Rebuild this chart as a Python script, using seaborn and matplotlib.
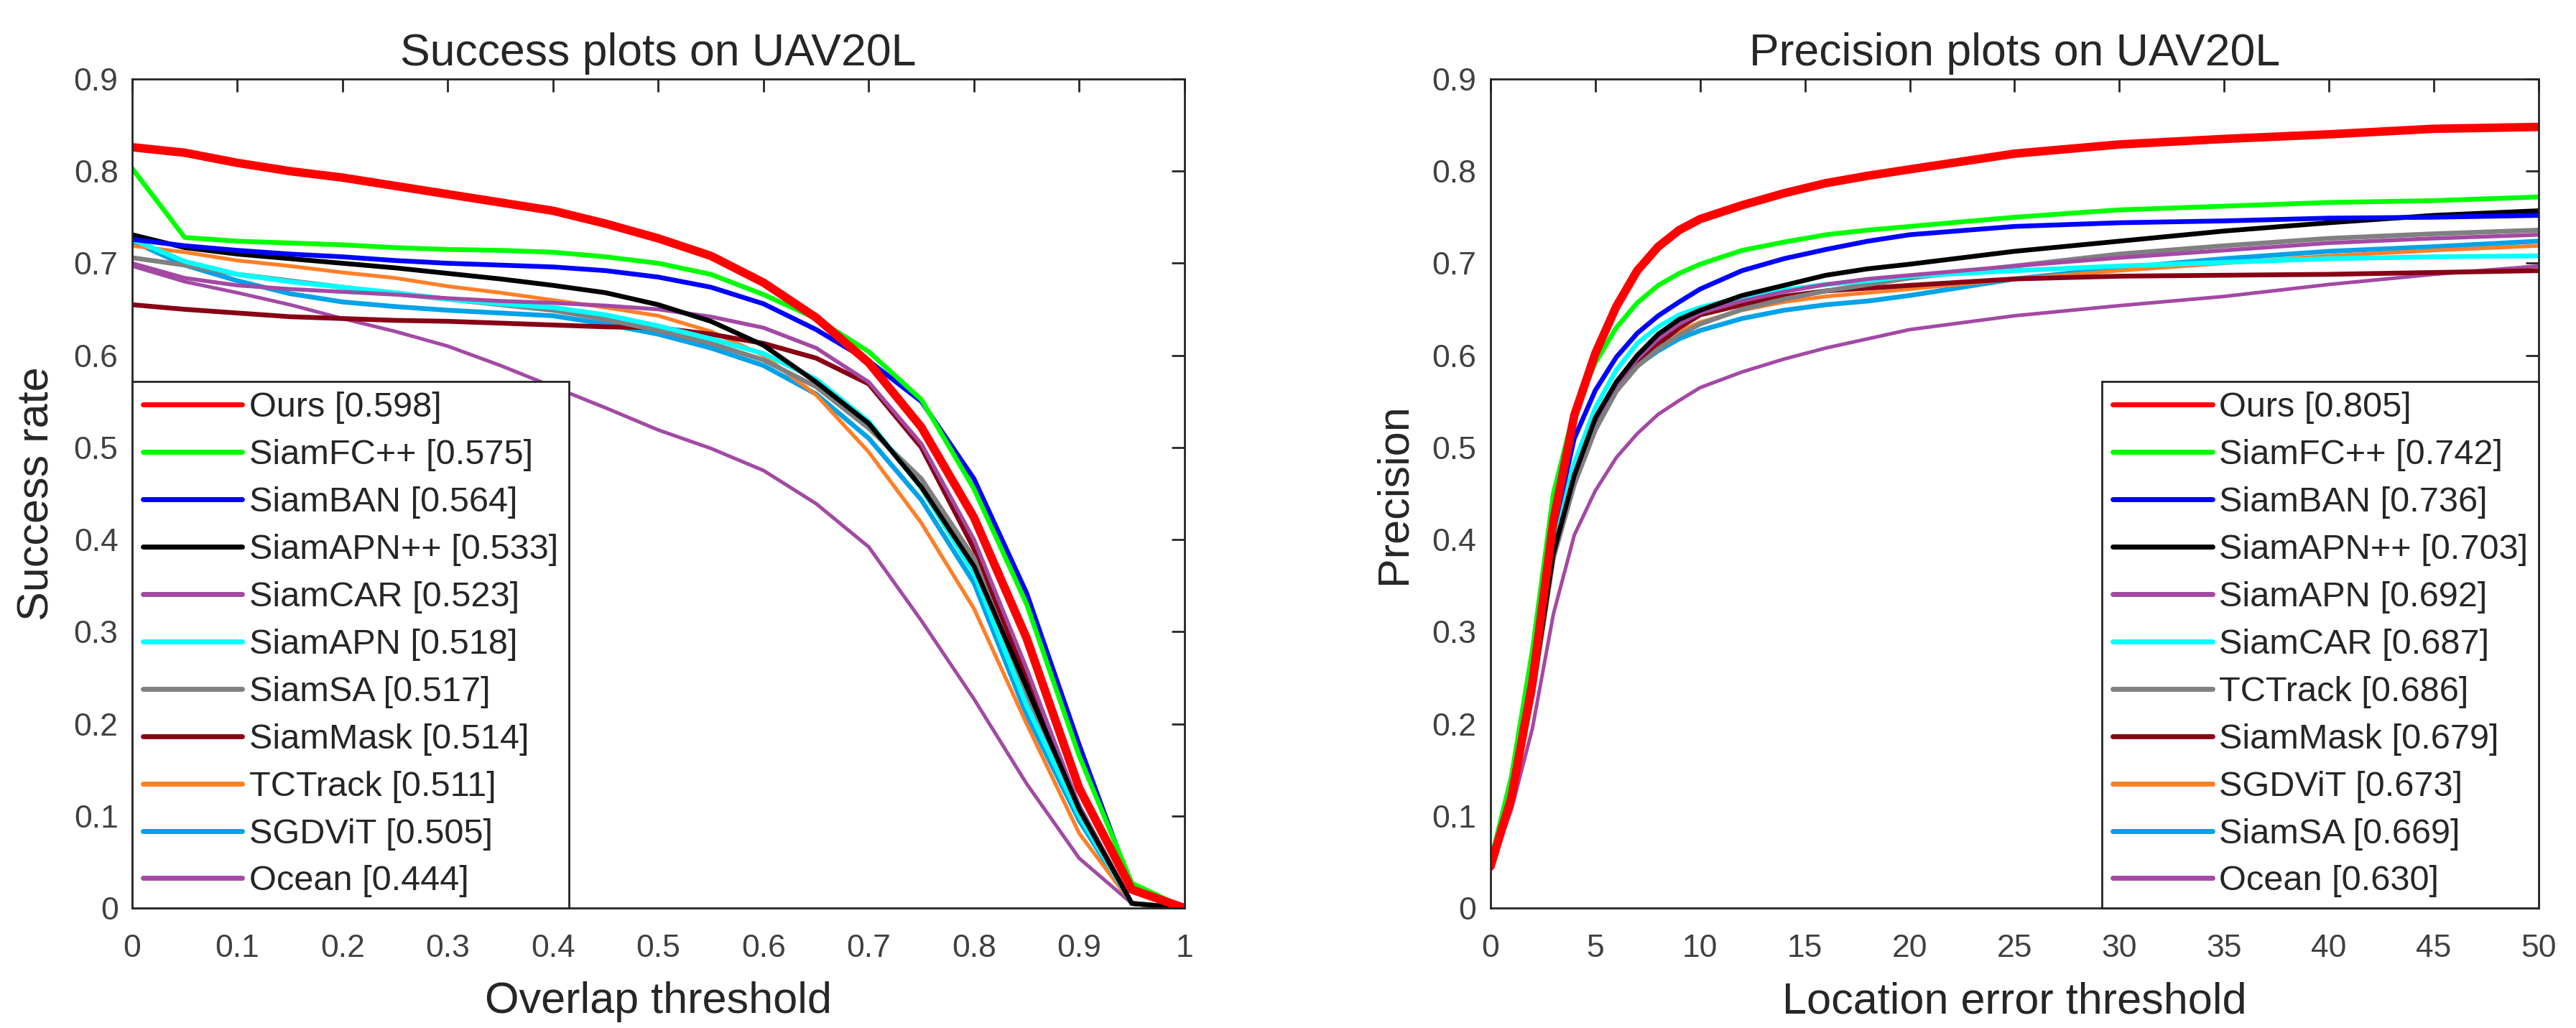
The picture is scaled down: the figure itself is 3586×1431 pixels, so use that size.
import seaborn as sns
import matplotlib.pyplot as plt
from matplotlib.lines import Line2D

# ---- success plot (overlap threshold) ----
overlap_thr = [0.0, 0.05, 0.1, 0.15, 0.2, 0.25, 0.3, 0.35, 0.4, 0.45, 0.5,
               0.55, 0.6, 0.65, 0.7, 0.75, 0.8, 0.85, 0.9, 0.95, 1.0]
succ_ours = [0.826, 0.820, 0.809, 0.800, 0.793, 0.784, 0.775, 0.766, 0.757, 0.743, 0.727,
             0.708, 0.679, 0.641, 0.592, 0.522, 0.424, 0.293, 0.130, 0.020, 0.0]
succ_siamfcpp = [0.803, 0.728, 0.724, 0.722, 0.720, 0.717, 0.715, 0.714, 0.712, 0.707, 0.700,
                 0.688, 0.666, 0.640, 0.604, 0.552, 0.455, 0.330, 0.165, 0.027, 0.0]
succ_siamban = [0.726, 0.719, 0.714, 0.710, 0.707, 0.703, 0.700, 0.698, 0.696, 0.692, 0.685,
                0.674, 0.656, 0.628, 0.594, 0.550, 0.466, 0.342, 0.177, 0.022, 0.0]
succ_siamapnpp = [0.731, 0.717, 0.710, 0.705, 0.700, 0.695, 0.689, 0.683, 0.676, 0.668, 0.655,
                  0.637, 0.611, 0.571, 0.526, 0.457, 0.371, 0.240, 0.107, 0.005, 0.0]
succ_siamcar = [0.700, 0.684, 0.676, 0.672, 0.669, 0.666, 0.662, 0.659, 0.657, 0.654, 0.650,
                0.642, 0.630, 0.608, 0.571, 0.504, 0.400, 0.260, 0.110, 0.005, 0.0]
succ_siamapn = [0.726, 0.702, 0.688, 0.680, 0.674, 0.668, 0.661, 0.656, 0.652, 0.644, 0.632,
                0.618, 0.602, 0.574, 0.528, 0.456, 0.363, 0.220, 0.100, 0.005, 0.0]
succ_siamsa = [0.706, 0.698, 0.688, 0.681, 0.674, 0.667, 0.661, 0.655, 0.649, 0.639, 0.627,
               0.613, 0.595, 0.566, 0.521, 0.466, 0.380, 0.230, 0.100, 0.005, 0.0]
succ_siammask = [0.655, 0.650, 0.646, 0.642, 0.640, 0.638, 0.637, 0.635, 0.633, 0.631, 0.630,
                 0.623, 0.613, 0.597, 0.569, 0.500, 0.390, 0.250, 0.110, 0.005, 0.0]
succ_tctrack = [0.719, 0.712, 0.703, 0.697, 0.690, 0.684, 0.675, 0.668, 0.660, 0.652, 0.643,
                0.626, 0.600, 0.557, 0.495, 0.418, 0.325, 0.200, 0.081, 0.005, 0.0]
succ_sgdvit = [0.724, 0.698, 0.681, 0.667, 0.658, 0.653, 0.649, 0.646, 0.643, 0.634, 0.623,
               0.608, 0.589, 0.558, 0.510, 0.443, 0.353, 0.210, 0.095, 0.005, 0.0]
succ_ocean = [0.697, 0.680, 0.668, 0.655, 0.640, 0.626, 0.610, 0.589, 0.566, 0.543, 0.519,
              0.499, 0.475, 0.439, 0.392, 0.312, 0.227, 0.135, 0.054, 0.005, 0.0]

succ_names = ["Ours", "SiamFC++", "SiamBAN", "SiamAPN++", "SiamCAR", "SiamAPN",
              "SiamSA", "SiamMask", "TCTrack", "SGDViT", "Ocean"]
succ_scores = ["0.598", "0.575", "0.564", "0.533", "0.523", "0.518",
               "0.517", "0.514", "0.511", "0.505", "0.444"]
succ_values = [succ_ours, succ_siamfcpp, succ_siamban, succ_siamapnpp, succ_siamcar,
               succ_siamapn, succ_siamsa, succ_siammask, succ_tctrack, succ_sgdvit, succ_ocean]

# ---- precision plot (location error threshold) ----
loc_thr = [0, 1, 2, 3, 4, 5, 6, 7, 8, 9, 10, 12, 14, 16, 18, 20, 25, 30, 35, 40, 45, 50]
prec_ours = [0.045, 0.120, 0.245, 0.420, 0.535, 0.602, 0.653, 0.692, 0.718, 0.736, 0.748,
             0.763, 0.776, 0.787, 0.795, 0.802, 0.819, 0.829, 0.835, 0.840, 0.846, 0.848]
prec_siamfcpp = [0.050, 0.143, 0.280, 0.450, 0.540, 0.592, 0.630, 0.657, 0.676, 0.689, 0.699,
                 0.714, 0.723, 0.731, 0.736, 0.740, 0.750, 0.758, 0.762, 0.766, 0.768, 0.772]
prec_siamban = [0.048, 0.130, 0.263, 0.410, 0.510, 0.562, 0.598, 0.624, 0.643, 0.658, 0.672,
                0.692, 0.705, 0.715, 0.724, 0.731, 0.740, 0.744, 0.746, 0.749, 0.750, 0.752]
prec_siamapnpp = [0.047, 0.125, 0.235, 0.385, 0.470, 0.532, 0.571, 0.600, 0.623, 0.639, 0.649,
                  0.665, 0.676, 0.687, 0.694, 0.699, 0.713, 0.724, 0.735, 0.744, 0.752, 0.757]
prec_siamapn = [0.047, 0.125, 0.235, 0.385, 0.468, 0.530, 0.568, 0.596, 0.618, 0.634, 0.646,
                0.659, 0.669, 0.677, 0.683, 0.687, 0.697, 0.706, 0.714, 0.722, 0.727, 0.731]
prec_siamcar = [0.048, 0.128, 0.250, 0.400, 0.483, 0.543, 0.584, 0.613, 0.631, 0.644, 0.652,
                0.663, 0.671, 0.677, 0.681, 0.686, 0.692, 0.697, 0.701, 0.705, 0.707, 0.708]
prec_tctrack = [0.045, 0.120, 0.230, 0.380, 0.460, 0.519, 0.561, 0.588, 0.607, 0.622, 0.634,
                0.650, 0.661, 0.670, 0.677, 0.684, 0.697, 0.710, 0.719, 0.727, 0.732, 0.736]
prec_siammask = [0.047, 0.125, 0.235, 0.385, 0.466, 0.526, 0.566, 0.592, 0.612, 0.630, 0.644,
                 0.655, 0.664, 0.670, 0.673, 0.676, 0.683, 0.686, 0.687, 0.688, 0.690, 0.692]
prec_sgdvit = [0.046, 0.122, 0.232, 0.385, 0.465, 0.524, 0.568, 0.594, 0.613, 0.626, 0.636,
               0.649, 0.658, 0.664, 0.668, 0.672, 0.683, 0.692, 0.700, 0.708, 0.714, 0.719]
prec_siamsa = [0.046, 0.122, 0.233, 0.390, 0.465, 0.529, 0.566, 0.589, 0.605, 0.618, 0.627,
               0.640, 0.649, 0.655, 0.659, 0.665, 0.683, 0.695, 0.705, 0.713, 0.718, 0.724]
prec_ocean = [0.045, 0.107, 0.195, 0.319, 0.405, 0.453, 0.489, 0.515, 0.536, 0.551, 0.565,
              0.582, 0.596, 0.608, 0.618, 0.628, 0.643, 0.654, 0.664, 0.677, 0.688, 0.697]

prec_names = ["Ours", "SiamFC++", "SiamBAN", "SiamAPN++", "SiamAPN", "SiamCAR",
              "TCTrack", "SiamMask", "SGDViT", "SiamSA", "Ocean"]
prec_scores = ["0.805", "0.742", "0.736", "0.703", "0.692", "0.687",
               "0.686", "0.679", "0.673", "0.669", "0.630"]
prec_values = [prec_ours, prec_siamfcpp, prec_siamban, prec_siamapnpp, prec_siamapn,
               prec_siamcar, prec_tctrack, prec_siammask, prec_sgdvit, prec_siamsa, prec_ocean]

# colours / widths follow the rank (OTB toolkit style)
rank_colors = ["#ff0000", "#00ff00", "#0000ff", "#000000", "#a349a4", "#00ffff",
               "#808080", "#880015", "#ff7f27", "#00a2e8", "#a349a4"]
rank_widths = [8.5, 4.8, 4.8, 4.8, 4.0, 4.8, 4.8, 4.8, 3.8, 4.8, 3.6]

success_ticks = [0, 0.1, 0.2, 0.3, 0.4, 0.5, 0.6, 0.7, 0.8, 0.9, 1.0]
success_ticklabels = ["0", "0.1", "0.2", "0.3", "0.4", "0.5", "0.6", "0.7", "0.8", "0.9", "1"]
prec_ticks = [0, 5, 10, 15, 20, 25, 30, 35, 40, 45, 50]
y_ticks = [0, 0.1, 0.2, 0.3, 0.4, 0.5, 0.6, 0.7, 0.8, 0.9]
y_ticklabels = ["0", "0.1", "0.2", "0.3", "0.4", "0.5", "0.6", "0.7", "0.8", "0.9"]

sns.set_style("white")
plt.rcParams['font.family'] = ['Liberation Sans', 'DejaVu Sans']

axis_col = "#262626"
fig = plt.figure(figsize=(35.86, 14.31), dpi=100)
ax1 = fig.add_axes([0.0513, 0.1167, 0.4085, 0.8064])
ax2 = fig.add_axes([0.5786, 0.1167, 0.4069, 0.8064])


def draw(ax, x, values, names, scores, legend_loc):
    # draw lowest rank first so "Ours" ends on top
    for i in range(len(values) - 1, -1, -1):
        sns.lineplot(x=x, y=values[i], ax=ax, color=rank_colors[i],
                     linewidth=rank_widths[i], sort=False, errorbar=None)
    handles = [Line2D([], [], color=rank_colors[i], linewidth=5)
               for i in range(len(names))]
    labels = [f"{n} [{s}]" for n, s in zip(names, scores)]
    leg = ax.legend(handles, labels, loc=legend_loc, fontsize=35,
                    borderaxespad=0, borderpad=0.3, labelspacing=0.43,
                    handlelength=2.85, handletextpad=0.2, fancybox=False,
                    framealpha=1, edgecolor=axis_col)
    leg.get_frame().set_linewidth(2)

    ax.set_yticks(y_ticks)
    ax.set_yticklabels(y_ticklabels)
    ax.set_ylim(0, 0.9)
    ax.tick_params(direction='in', top=True, right=True, length=13, width=2,
                   color=axis_col, labelcolor="#404040", labelsize=32)
    ax.tick_params(axis='x', pad=26)
    ax.tick_params(axis='y', pad=14)
    for sp in ax.spines.values():
        sp.set_linewidth(2)
        sp.set_color(axis_col)


draw(ax1, overlap_thr, succ_values, succ_names, succ_scores, "lower left")
ax1.set_xticks(success_ticks)
ax1.set_xticklabels(success_ticklabels)
ax1.set_xlim(0, 1)
ax1.set_title("Success plots on UAV20L", fontsize=45, pad=14)
ax1.set_xlabel("Overlap threshold", fontsize=44, labelpad=18)
ax1.set_ylabel("Success rate", fontsize=44, labelpad=16)

draw(ax2, loc_thr, prec_values, prec_names, prec_scores, "lower right")
ax2.set_xticks(prec_ticks)
ax2.set_xlim(0, 50)
ax2.set_title("Precision plots on UAV20L", fontsize=45, pad=14)
ax2.set_xlabel("Location error threshold", fontsize=44, labelpad=18)
ax2.set_ylabel("Precision", fontsize=44, labelpad=17)

fig.savefig("out.png", dpi=100)
